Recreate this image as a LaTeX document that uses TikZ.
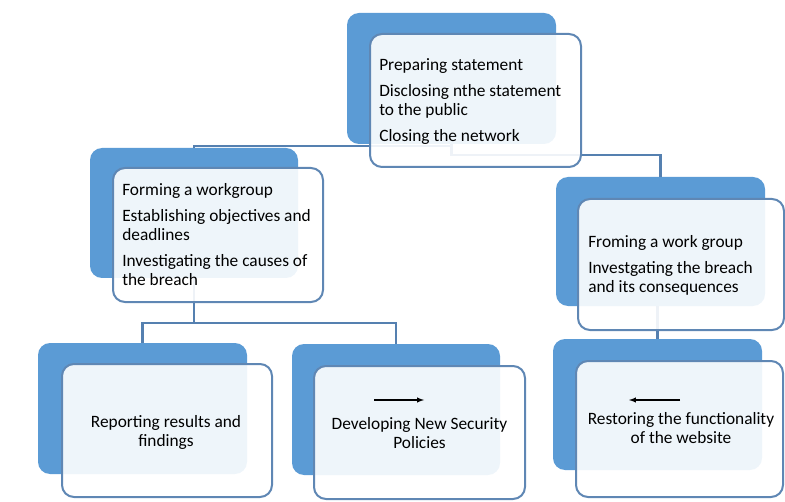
\documentclass[tikz,border=0pt]{standalone}
\usepackage{fontspec}
\setmainfont{Carlito}
\usetikzlibrary{calc}
\definecolor{accent}{HTML}{5B9BD5}
\definecolor{frame}{HTML}{5F87B4}
\definecolor{linkc}{HTML}{5580B0}
\begin{document}
\begin{tikzpicture}[x=0.75pt,y=-0.75pt,
  back/.style={draw=none,fill=accent,rounded corners=9pt,inner sep=0pt},
  front/.style={draw=frame,line width=1.5pt,fill=white,fill opacity=0.9,draw opacity=1,rounded corners=9pt,inner sep=0pt},
  link/.style={draw=linkc,line width=1.8pt},
  txt/.style={inner sep=0pt,font=\fontsize{13pt}{14.25pt}\selectfont,text=black},
  tiparrow/.style={-latex,line width=0.8pt,black}]
\useasboundingbox (0,0) rectangle (785,502);
% back boxes
\node[back,minimum width=156.75pt,minimum height=98.25pt] (tb) at (451.5,78.5) {};
\node[back,minimum width=156pt,minimum height=97.5pt] (lb) at (194,213) {};
\node[back,minimum width=156.75pt,minimum height=96.75pt] (rb) at (660.5,241.5) {};
\node[back,minimum width=156.75pt,minimum height=98.25pt] (sb) at (657.5,404.5) {};
\node[back,minimum width=156.75pt,minimum height=98.25pt] (pb) at (142.5,408.5) {};
\node[back,minimum width=156pt,minimum height=98.25pt] (db) at (396,409.5) {};
% connectors
\draw[link] ([yshift=-1.5pt]tb.south) -| (lb.north);
\draw[link] (tb.south) -- ++(0,11) -| (rb.north);
\draw[link] (lb.south) -- ++(0,45) -| (pb.north);
\draw[link] (lb.south) -- ++(0,45) -| (db.north);
\draw[link] (sb.north |- rb.south) -- (sb.north);
% front boxes
\node[front,minimum width=158.25pt,minimum height=99.75pt] (tf) at (475.5,100.5) {};
\node[front,minimum width=157.5pt,minimum height=100.5pt] (lf) at (218,235) {};
\node[front,minimum width=154.5pt,minimum height=98.25pt] (rf) at (681,264.5) {};
\node[front,minimum width=155.25pt,minimum height=102pt] (sf) at (679.5,429) {};
\node[front,minimum width=157.5pt,minimum height=99.75pt] (pf) at (167,430.5) {};
\node[front,minimum width=158.25pt,minimum height=99.75pt] (df) at (419.5,432.5) {};
% texts
\node[txt,anchor=north west,align=left] (tt) at (379,58)
  {Preparing statement\\[5.25pt]Disclosing nthe statement\\to the public\\[5.25pt]Closing the network};
\node[txt,anchor=north west,align=left] (lt) at (122,183)
  {Forming a workgroup\\[5.25pt]Establishing objectives and\\deadlines\\[5.25pt]Investigating the causes of\\the breach};
\node[txt,anchor=north west,align=left] (rt) at (588,235)
  {Froming a work group\\[5.25pt]Investgating the breach\\and its consequences};
\node[txt,anchor=north,align=center] (pt) at (166,415)
  {Reporting results and\\findings};
\node[txt,anchor=north,align=center] (dt) at (419.5,417)
  {Developing New Security\\Policies};
\node[txt,anchor=north,align=center] (st) at (681,412)
  {Restoring the functionality\\of the website};
% small arrows
\coordinate (da1) at (374,400);
\coordinate (da2) at (424,400);
\coordinate (sa1) at (680,400);
\coordinate (sa2) at (629,400);
\draw[tiparrow] (da1) -- (da2);
\draw[tiparrow] (sa1) -- (sa2);
\end{tikzpicture}
\end{document}
